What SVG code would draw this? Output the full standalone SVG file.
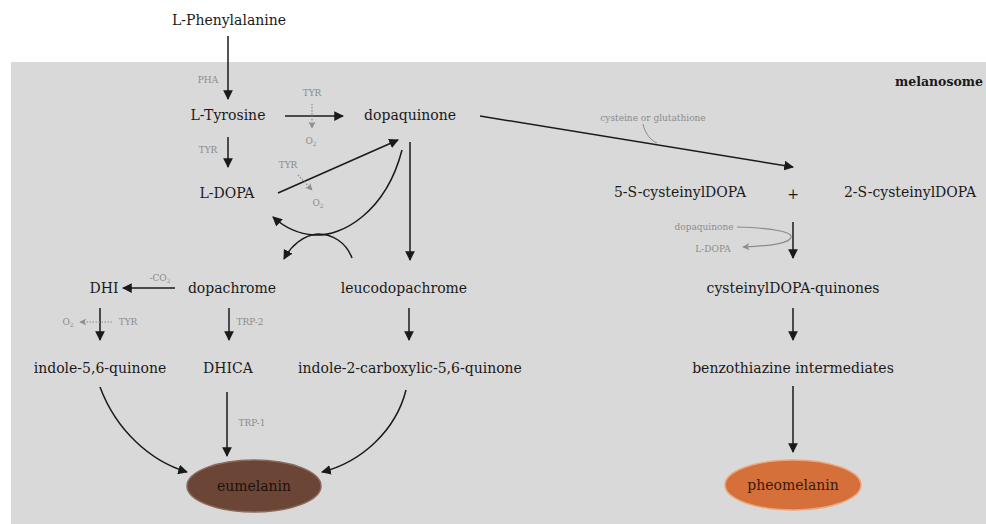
<svg xmlns="http://www.w3.org/2000/svg" width="986" height="524" viewBox="0 0 986 524">
<defs>
<style>
.t{font-family:"DejaVu Serif","Liberation Serif",serif;font-size:14px;fill:#1a1a1a;text-anchor:middle}
.g{font-family:"DejaVu Serif","Liberation Serif",serif;font-size:9px;fill:#8c8c8c;text-anchor:middle}
.a{fill:none;stroke:#1a1a1a;stroke-width:1.5;marker-end:url(#ah)}
.ga{fill:none;stroke:#8c8c8c;stroke-width:1.2;marker-end:url(#gh)}
.gd{fill:none;stroke:#8c8c8c;stroke-width:1.2;stroke-dasharray:1.5 1.5;marker-end:url(#gh)}
.gl{fill:none;stroke:#8c8c8c;stroke-width:1}
</style>
<marker id="ah" viewBox="0 0 10 10" refX="9" refY="5" markerWidth="6.5" markerHeight="6.5" orient="auto" markerUnits="strokeWidth">
<path d="M0,0 L10,5 L0,10 Z" fill="#1a1a1a"/>
</marker>
<marker id="gh" viewBox="0 0 10 10" refX="9" refY="5" markerWidth="6" markerHeight="6" orient="auto" markerUnits="strokeWidth">
<path d="M0,0 L10,5 L0,10 L3,5 Z" fill="#8c8c8c"/>
</marker>
</defs>
<rect x="0" y="0" width="986" height="524" fill="#ffffff"/>
<rect id="melanosome-area" x="11" y="62" width="975" height="462" fill="#d9d9d9"/>
<text x="939" y="86" style="font-family:'DejaVu Serif','Liberation Serif',serif;font-size:12.5px;font-weight:bold;fill:#1a1a1a;text-anchor:middle">melanosome</text>

<g id="connectors">
<path class="a" d="M228,36 L228,99"/>
<path class="a" d="M285,116 L343,116"/>
<path class="a" d="M228,137 L228,167"/>
<path class="a" d="M278,193 L398,140"/>
<path class="a" d="M410,142 L410,260"/>
<path class="a" d="M480,116 L793,167"/>
<path class="a" d="M402,150 C386,212 342,237 314,235 C298,234 283,226 273,217"/>
<path class="a" d="M352,258 C346,242 332,234 318,234 C303,235 291,246 284,259"/>
<path class="a" d="M175,288 L123,288"/>
<path class="a" d="M100,308 L100,340"/>
<path class="a" d="M229,308 L229,340"/>
<path class="a" d="M409,308 L409,340"/>
<path class="a" d="M227,392 L227,456"/>
<path class="a" d="M100,387 C116,430 150,461 187,472"/>
<path class="a" d="M406,390 C396,430 362,462 322,472"/>
<path class="a" d="M793,222 L793,258"/>
<path class="a" d="M793,308 L793,340"/>
<path class="a" d="M793,386 L793,452"/>
<path class="gd" d="M312,104 L312,128"/>
<path class="gd" d="M298,175 L312,190"/>
<path class="gd" d="M112,322 L80,322"/>
<path class="gl" d="M643,124 C645,133 650,140 657,143"/>
<path class="ga" d="M737,227 C772,228 797,232 790,239 C784,245 762,246 743,247"/>
</g>

<g id="labels">
<text class="g" x="208" y="83">PHA</text>
<text class="g" x="312" y="96">TYR</text>
<text class="g" x="311" y="144">O<tspan font-size="6" dy="2">2</tspan></text>
<text class="g" x="208" y="153">TYR</text>
<text class="g" x="288" y="168">TYR</text>
<text class="g" x="318" y="206">O<tspan font-size="6" dy="2">2</tspan></text>
<text class="g" x="160" y="281">-CO<tspan font-size="6" dy="2">2</tspan></text>
<text class="g" x="68" y="325">O<tspan font-size="6" dy="2">2</tspan></text>
<text class="g" x="128" y="325">TYR</text>
<text class="g" x="250" y="325">TRP-2</text>
<text class="g" x="252" y="426">TRP-1</text>
<text class="g" x="653" y="121">cysteine or glutathione</text>
<text class="g" x="704" y="230">dopaquinone</text>
<text class="g" x="713" y="252">L-DOPA</text>
</g>

<g id="n-phenylalanine"><text class="t" x="229" y="25">L-Phenylalanine</text></g>
<g id="n-tyrosine"><text class="t" x="228" y="120">L-Tyrosine</text></g>
<g id="n-dopaquinone"><text class="t" x="410" y="120">dopaquinone</text></g>
<g id="n-ldopa"><text class="t" x="227" y="198">L-DOPA</text></g>
<g id="n-5s"><text class="t" x="680" y="197">5-S-cysteinylDOPA</text></g>
<g id="n-plus"><text class="t" x="793" y="199">+</text></g>
<g id="n-2s"><text class="t" x="910" y="197">2-S-cysteinylDOPA</text></g>
<g id="n-dhi"><text class="t" x="104" y="293">DHI</text></g>
<g id="n-dopachrome"><text class="t" x="232" y="293">dopachrome</text></g>
<g id="n-leucodopachrome"><text class="t" x="404" y="293">leucodopachrome</text></g>
<g id="n-quinones"><text class="t" x="793" y="293">cysteinylDOPA-quinones</text></g>
<g id="n-indole56"><text class="t" x="100" y="373">indole-5,6-quinone</text></g>
<g id="n-dhica"><text class="t" x="228" y="373">DHICA</text></g>
<g id="n-indole2"><text class="t" x="410" y="373">indole-2-carboxylic-5,6-quinone</text></g>
<g id="n-benzothiazine"><text class="t" x="793" y="373">benzothiazine intermediates</text></g>
<g id="n-eumelanin">
<ellipse cx="254" cy="486" rx="67" ry="26" fill="#6b4536" stroke="#8a6a5a" stroke-width="1.5"/>
<text class="t" x="254" y="491" style="fill:#1e120c">eumelanin</text>
</g>
<g id="n-pheomelanin">
<ellipse cx="793" cy="485" rx="68" ry="25" fill="#d5703a" stroke="#eba77f" stroke-width="1.5"/>
<text class="t" x="793" y="490" style="fill:#3a1a0a">pheomelanin</text>
</g>
</svg>
